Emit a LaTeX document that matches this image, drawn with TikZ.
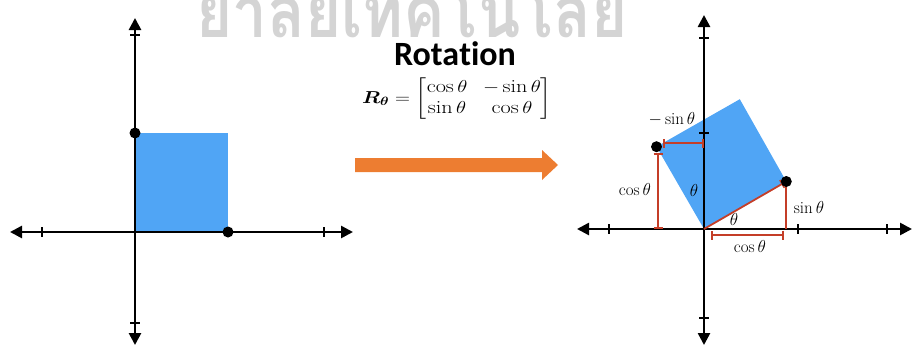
\documentclass[tikz,border=0pt]{standalone}
\usepackage{amsmath,bm}
\usepackage{fontspec}
\newfontfamily\titlefont[Ligatures=NoCommon]{Carlito}
\newfontfamily\thaifont[Script=Thai]{Loma}
\usetikzlibrary{arrows.meta}
\definecolor{sqblue}{RGB}{80,165,245}
\definecolor{myred}{RGB}{196,62,40}
\definecolor{myorange}{RGB}{237,125,49}
\definecolor{wmgray}{RGB}{212,212,212}
\tikzset{
  axis/.style={line width=2.6pt,{Triangle[length=12pt,width=12pt]}-{Triangle[length=12pt,width=12pt]}},
  tickmark/.style={line width=1.2pt},
  dot/.style={circle,fill=black,inner sep=0pt,minimum size=11pt},
  redl/.style={draw=myred,line width=1.8pt},
  redbar/.style={redl,{Bar[width=9pt,line width=1.6pt]}-{Bar[width=9pt,line width=1.6pt]}},
  lab/.style={font=\fontsize{17}{19}\selectfont,inner sep=0pt}
}
\begin{document}
\begin{tikzpicture}[x=1pt,y=-1pt]
\useasboundingbox (0,0) rectangle (913,348);
% watermark
\node[anchor=base,text=wmgray,font=\thaifont\bfseries\fontsize{72}{72}\selectfont,inner sep=0pt,text depth=0pt,text height=30pt] (wm) at (412,37) {\scalebox{0.86}[1]{ยาลัยเทคโนโลยี}};
% ---------- left graph ----------
\fill[sqblue] (135,133) rectangle (228,232);
\coordinate (Lt) at (135,18);
\coordinate (Lb) at (135,345);
\coordinate (Ll) at (10,232);
\coordinate (Lr) at (353,232);
\draw[axis] (Lb) -- (Lt);
\draw[axis] (Ll) -- (Lr);
\foreach \x in {42,324} \draw[tickmark] (\x,227) -- (\x,237);
\foreach \y in {35,323} \draw[tickmark] (130,\y) -- (140,\y);
\node[dot] (p1) at (135,133) {};
\node[dot] (p2) at (228,232) {};
% ---------- title and matrix ----------
\node[font=\titlefont\bfseries\fontsize{34}{36}\selectfont,inner sep=0pt,text depth=0pt,anchor=base] (title) at (455,65) {Rota\kern0pt tion};
\node[inner sep=0pt,font=\fontsize{18.5}{21}\selectfont] (mat) at (457,99) {\scalebox{1.2}[1]{$\setlength{\arraycolsep}{6.5pt}\bm{R}_{\bm{\theta}}=\begin{bmatrix}\cos\theta & -\sin\theta\\ \sin\theta & \cos\theta\end{bmatrix}$}};
% ---------- orange arrow ----------
\fill[myorange] (355,158) -- (542,158) -- (542,150) -- (558,165) -- (542,180) -- (542,172) -- (355,172) -- cycle;
% ---------- right graph ----------
\coordinate (O) at (704,229);
\coordinate (B) at (786.3,181.5);
\coordinate (C) at (739.8,99.2);
\coordinate (D) at (656.5,146.7);
\fill[sqblue] (O) -- (B) -- (C) -- (D) -- cycle;
\coordinate (Rt) at (704,15);
\coordinate (Rb) at (704,345);
\coordinate (Rl) at (577,229);
\coordinate (Rr) at (912,229);
\draw[axis] (Rb) -- (Rt);
\draw[axis] (Rl) -- (Rr);
\foreach \x in {609,798,887} \draw[tickmark] (\x,224) -- (\x,234);
\foreach \y in {38,133,318} \draw[tickmark] (699,\y) -- (709,\y);
% red measures
\coordinate (Bb) at (786.3,229);
\coordinate (c1) at (711,235);
\coordinate (c2) at (784,235);
\coordinate (v1) at (658,153);
\coordinate (v2) at (658,229);
\coordinate (h1) at (663,143);
\coordinate (h2) at (704,143);
\draw[redl,-{Bar[width=9pt,line width=1.6pt]},shorten >=4pt] (O) -- (B);
\draw[redl] (B) -- (Bb);
\draw[redbar] (c1) -- (c2);
\draw[redbar] (v1) -- (v2);
\draw[redbar] (h1) -- (h2);
\node[dot] (q1) at (B) {};
\node[dot] (q2) at (D) {};
% labels
\node[lab] (l1) at (672,119) {$-\sin\theta$};
\node[lab] (l2) at (635,190) {$\cos\theta$};
\node[lab] (l3) at (694,190) {$\theta$};
\node[lab] (l4) at (734,219) {$\theta$};
\node[lab] (l5) at (809,208) {$\sin\theta$};
\node[lab] (l6) at (750,247) {$\cos\theta$};
\end{tikzpicture}
\end{document}
